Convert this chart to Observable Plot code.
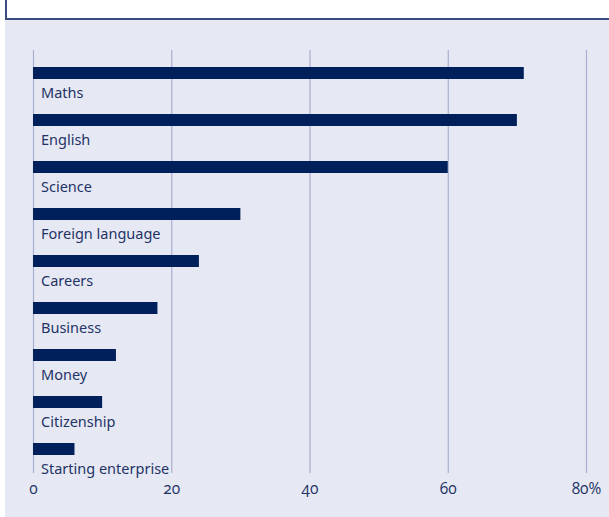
<!DOCTYPE html>
<html>
<head>
<meta charset="utf-8">
<script src="https://cdn.jsdelivr.net/npm/d3@7"></script>
<script src="https://cdn.jsdelivr.net/npm/@observablehq/plot@0.6"></script>
<style>
  html, body { margin: 0; padding: 0; width: 100%; height: 100%; }
  html, body { background: linear-gradient(to right, #ffffff 0, #ffffff 5px, #e6e9f3 5px, #e6e9f3 100%); }
  body { position: relative; overflow: hidden; font-family: "Noto Sans", sans-serif; }
  #topbox { position: absolute; left: 5px; top: 0; right: 0; height: 18px; border-left: 2px solid #3b4c7e; border-bottom: 2px solid #3b4c7e; background: #fff; }
  #panel { position: absolute; left: 5px; top: 20px; right: 0; bottom: 0; background: #e6e9f3; }
  #panel svg { display: block; }
  .xaxis text { font-family: "Open Sans", "Noto Sans", sans-serif; font-feature-settings: "onum" 1; font-variant-numeric: oldstyle-nums; }
</style>
</head>
<body>
<div id="topbox"></div>
<div id="panel"></div>
<script>
const categories = ["Maths", "English", "Science", "Foreign language", "Careers", "Business", "Money", "Citizenship", "Starting enterprise"];
const values = [71, 70, 60, 30, 24, 18, 12, 10, 6];
const xTicks = [0, 20, 40, 60, 80];
const tickLabels = ["0", "20", "40", "60", "80%"];

const data = categories.map((c, i) => ({category: c, value: values[i]}));

const chart = Plot.plot({
  width: 604,
  height: 497,
  marginLeft: 28,
  marginRight: 23,
  marginTop: 30,
  marginBottom: 44,
  style: {background: "transparent", fontFamily: "Noto Sans, sans-serif", fontSize: "14px", color: "#1c2f66"},
  x: {domain: [0, 80], ticks: xTicks, label: null},
  y: {domain: categories, padding: 0, axis: null},
  marks: [
    Plot.ruleX(xTicks, {stroke: "#a8aed2", strokeWidth: 1.2}),
    Plot.barX(data, {x: "value", y: "category", fill: "#00205c", insetTop: 17, insetBottom: 18}),
    Plot.text(data, {x: 0, y: "category", text: "category", textAnchor: "start", dx: 7.5, dy: 19, fill: "#1f3366", fontSize: 14.5}),
    Plot.axisX(xTicks, {tickSize: 0, tickPadding: 9, tickFormat: (d, i) => tickLabels[i], fontSize: 15.5, fill: "#1f3366", className: "xaxis"})
  ]
});
document.getElementById("panel").appendChild(chart);
</script>
</body>
</html>
